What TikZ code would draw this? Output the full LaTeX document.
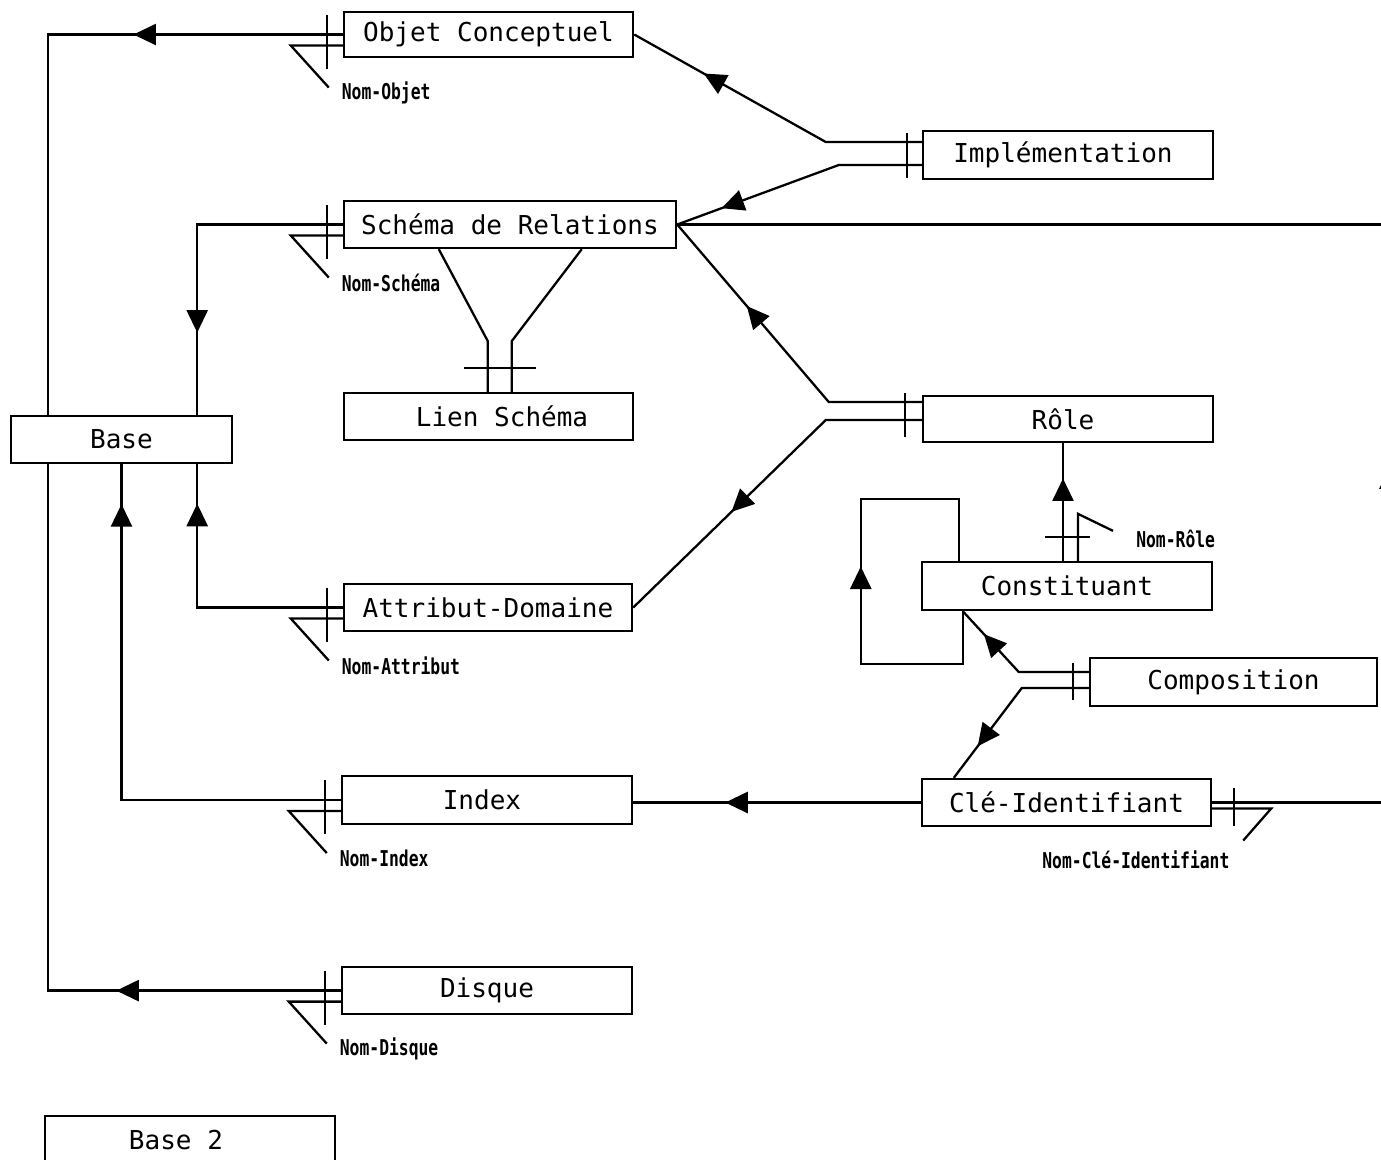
\documentclass[tikz,border=0pt]{standalone}
\usepackage{fontspec}
\setmonofont{DejaVu Sans Mono}
\newfontfamily\nomfont[FakeStretch=0.75]{DejaVu Sans Mono}
\usepackage{tikz}
\usetikzlibrary{calc}
\usetikzlibrary{arrows.meta}
\usetikzlibrary{decorations.markings}
\tikzset{entity/.style={draw, fill=white, minimum height=0.47cm, inner sep=0pt, font=\ttfamily\fontsize{7.4}{8}\selectfont}}
\tikzset{nomtxt/.style={font=\nomfont\bfseries\fontsize{6.2}{7}\selectfont, inner sep=1pt}}
\tikzset{arr/.style={postaction={decorate}, decoration={markings, mark=at position #1 with {\arrow{Triangle[length=6.4pt,width=6pt]}}}}}

\begin{document}
\begin{tikzpicture}[x=0.01cm, y=-0.01cm, line width=0.65pt]
    \useasboundingbox (0,0) rectangle (1381,1159);
    \clip (0,0) rectangle (1381,1159);

    \node[entity, minimum width=2.89cm, minimum height=0.45cm] at (488.5,34.5) (objet){Objet Conceptuel};
    \node[entity, minimum width=2.9cm, minimum height=0.48cm] at (1068,155) (impl){Implémentation\kern0.1cm};
    \node[entity, minimum width=3.32cm] at (510,224.5) (schema){Schéma de Relations};
    \node[entity, minimum width=2.89cm] at ([yshift = -3.82cm]objet) (lien){\kern0.27cm Lien Schéma};
    \node[entity, minimum width=2.21cm] at (121.5,439.5) (base){Base};
    \node[entity, minimum width=2.9cm, minimum height=0.46cm] at (1068,419) (role){Rôle\kern0.1cm};
    \node[entity, minimum width=2.9cm, minimum height=0.48cm] at (1067,586) (constit){Constituant};
    \node[entity, minimum width=2.88cm] at (488,607.5) (attrib){Attribut-Domaine};
    \node[entity, minimum width=2.87cm, minimum height=0.48cm] at (1233.5,682) (compo){Composition};
    \node[entity, minimum width=2.9cm, minimum height=0.48cm] at (487,800) (index){Index\kern0.1cm};
    \node[entity, minimum width=2.89cm] at (1066.5,802.5) (cle){Clé-Identifiant};
    \node[entity, minimum width=2.9cm] at ([yshift = -1.905cm]index) (disque){Disque};
    \node[entity, minimum width=2.9cm, minimum height=0.48cm] at (190,1140) (base2){Base 2\kern0.28cm};

    \coordinate (wrail) at (48,0);
    \coordinate (erail) at (1390,0);

    % vers Base
    \draw[arr=0.31] (objet.west) -| (wrail |- base.north);
    \draw[arr=0.274] (disque.west) -| (wrail |- base.south);
    \draw[arr=0.755] (schema.west) -| ($(base.north east)+(-36,0)$);
    \draw[arr=0.863] (attrib.west) -| ($(base.south east)+(-36,0)$);
    \draw[arr=0.928] (index.west) -| (base.south);

    % identifiants
    \foreach \ent/\nom/\txt in {objet/nomobj/Nom-Objet, schema/nomsch/Nom-Schéma, attrib/nomatt/Nom-Attribut, index/nomind/Nom-Index, disque/nomdis/Nom-Disque}{
      \draw ($(\ent.west)+(-16,-20)$) -- ++(0,54);
      \draw ($(\ent.west)+(0,11)$) -- ++(-52,0) -- ++(38,42)
        node[nomtxt, anchor=west, xshift=2.4pt, yshift=-1.5pt] (\nom){\txt};
    }

    % Lien Schema
    \draw ($(schema.south west)+(96,0)$) -- ($(lien.north west)+(145,-51)$) -- ($(lien.north west)+(145,0)$);
    \draw ($(schema.south west)+(239,0)$) -- ($(lien.north west)+(169,-51)$) -- ($(lien.north west)+(169,0)$);
    \draw ($(lien.north west)+(121,-24)$) -- ++(72,0);

    % Implementation
    \draw[arr=0.748] ($(impl.west)+(0,-13)$) -- ++(-96,0) -- (objet.east);
    \draw[arr=0.815] ($(impl.west)+(0,10)$) -- ++(-83,0) -- (schema.east);
    \draw ($(impl.west)+(-15,-22)$) -- ++(0,45);

    % Role
    \draw[arr=0.672] ($(role.west)+(0,-17)$) -- ++(-93,0) -- (schema.east);
    \draw[arr=0.625] ($(role.west)+(0,1)$) -- ++(-96,0) -- (attrib.east);
    \draw ($(role.west)+(-17,-26)$) -- ++(0,44);

    % Constituant
    \draw[arr=0.7] ($(constit.north)+(-4,0)$) -- ($(role.south)+(-5,0)$);
    \draw ($(constit.north)+(-22,-24)$) -- ++(45,0);
    \draw ($(constit.north)+(11,0)$) -- ++(0,-47) -- ++(35,17)
      node[nomtxt, anchor=west, xshift=5.3pt, yshift=-2.3pt] (nomrole){Nom-Rôle};
    \draw[arr=0.526] ($(constit.south west)+(42,0)$) -- ++(0,53) -- ++(-102,0) |- ($(constit.north west)+(38,-62)$) -- ++(0,62);

    % Composition
    \draw[arr=0.796] ($(compo.west)+(0,-10)$) -- ++(-70,0) -- ($(constit.south west)+(42,0)$);
    \draw[arr=0.78] ($(compo.west)+(0,6)$) -- ++(-67,0) -- ($(cle.north west)+(33,0)$);
    \draw ($(compo.west)+(-16,-19)$) -- ++(0,37);

    % Cle-Identifiant
    \draw[arr=0.68] (cle.west) -- (cle.west -| index.east);
    \draw[arr=0.35] (cle.east) -| (erail |- schema.east) -- (schema.east);
    \draw ($(cle.east)+(22,-15)$) -- ++(0,38);
    \draw ($(cle.east)+(0,6)$) -- ++(59,0) -- ++(-28,32)
      node[nomtxt, anchor=north east, xshift=-2.6pt, yshift=-1.7pt] (nomcle){Nom-Clé-Identifiant};
\end{tikzpicture}
\end{document}
